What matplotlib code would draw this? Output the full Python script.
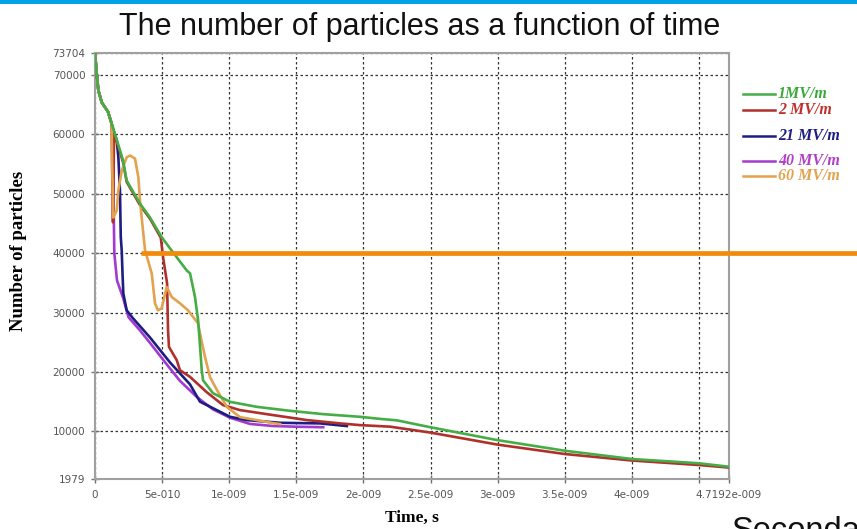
import matplotlib
matplotlib.use("Agg")
import matplotlib.pyplot as plt
from matplotlib.lines import Line2D
from matplotlib.patches import Rectangle

# --- data (time in ns, number of particles) ---
common_t = [0, 0.013, 0.025, 0.05, 0.097, 0.124]
common_n = [73704, 70200, 67400, 65400, 63800, 61800]

green_t = common_t + [0.164, 0.209, 0.236, 0.335, 0.41, 0.497, 0.559, 0.683, 0.708, 0.745,
                      0.768, 0.783, 0.795, 0.805, 0.879, 1.006, 1.205, 1.453, 1.699, 1.975,
                      2.124, 2.25, 2.497, 2.996, 3.502, 4.001, 4.501, 4.7192]
green_n = common_n + [58950, 55600, 52230, 48360, 46000, 42700, 40800, 37100, 36600, 32600,
                      28700, 24200, 20300, 18600, 16430, 14970, 14130, 13460, 12900, 12450,
                      12100, 11850, 10700, 8530, 6730, 5340, 4620, 4050]

red_t = common_t + [0.128, 0.134, 0.142, 0.164, 0.209, 0.236, 0.335, 0.41, 0.49, 0.507,
                    0.537, 0.544, 0.551, 0.609, 0.633, 0.708, 0.832, 0.954, 1.08, 1.326,
                    1.578, 1.826, 1.975, 2.198, 2.497, 2.996, 3.502, 4.001, 4.501, 4.7192]
red_n = common_n + [54000, 45200, 60000, 58700, 55300, 52000, 48100, 45800, 42600, 39340,
                    34920, 27020, 24215, 21980, 20300, 19170, 16600, 14420, 13580, 12740,
                    11900, 11340, 11050, 10790, 9800, 7780, 6180, 5090, 4330, 3910]

blue_t = common_t + [0.162, 0.174, 0.186, 0.192, 0.199, 0.205, 0.211, 0.236, 0.283, 0.41,
                     0.559, 0.708, 0.782, 0.907, 1.006, 1.13, 1.379, 1.677, 1.876]
blue_n = common_n + [58950, 56150, 50550, 42700, 40470, 36550, 33240, 30380, 29040, 25800,
                     21600, 17900, 15000, 13580, 12450, 11900, 11440, 11340, 10890]

purple_t = common_t + [0.132, 0.136, 0.140, 0.144, 0.153, 0.164, 0.209, 0.25, 0.335, 0.42,
                       0.544, 0.633, 0.758, 0.879, 1.006, 1.155, 1.326, 1.503, 1.70]
purple_n = common_n + [59500, 54000, 46000, 40000, 37900, 35400, 32500, 29200, 27000, 24600,
                       21000, 18500, 15800, 13700, 12300, 11250, 10900, 10780, 10700]

orange_t = common_t + [0.128, 0.136, 0.162, 0.174, 0.199, 0.236, 0.261, 0.298, 0.323, 0.335,
                       0.36, 0.373, 0.4225, 0.447, 0.469, 0.497, 0.534, 0.572, 0.633, 0.693,
                       0.7675, 0.782, 0.82, 0.857, 0.909, 0.984, 1.08, 1.205, 1.326, 1.379]
orange_n = common_n + [55000, 46000, 47190, 50550, 53910, 56150, 56435, 55930, 52790, 48870,
                       43270, 40470, 36600, 31560, 30380, 30720, 34300, 32620, 31560, 30380,
                       28200, 26520, 22480, 19120, 16940, 14080, 12400, 11900, 11390, 11220]

labels = ["1MV/m", "2 MV/m", "21 MV/m", "40 MV/m", "60 MV/m"]
line_colors = ["#45AD45", "#B0302C", "#1E1E82", "#A23ACF", "#E3A24E"]
text_colors = ["#3AA83A", "#C0302C", "#1E1E82", "#B040C8", "#E3A24E"]

x_ticks = [0, 0.5, 1.0, 1.5, 2.0, 2.5, 3.0, 3.5, 4.0, 4.5, 4.7192]
x_tick_labels = ["0", "5e-010", "1e-009", "1.5e-009", "2e-009", "2.5e-009", "3e-009",
                 "3.5e-009", "4e-009", "", "4.7192e-009"]
y_ticks = [1979, 10000, 20000, 30000, 40000, 50000, 60000, 70000, 73704]

highlight_level = 40000
highlight_start = 0.343

W, H = 857, 529
fig = plt.figure(figsize=(W / 100, H / 100), dpi=100)
fig.patch.set_facecolor("white")

# blue band on top of the slide
fig.add_artist(Rectangle((0, 1 - 4 / H), 1, 4 / H, transform=fig.transFigure,
                         color="#00A2E8", lw=0))

ax = fig.add_axes([95 / W, 1 - 479 / H, 633.5 / W, 426 / H])

series = [(green_t, green_n), (red_t, red_n), (blue_t, blue_n),
          (purple_t, purple_n), (orange_t, orange_n)]
zorders = [6, 4, 3.5, 3, 5]
for (t, n), c, z in zip(series, line_colors, zorders):
    ax.plot(t, n, color=c, lw=1.9, zorder=z, solid_joinstyle="round")

ax.set_xlim(0, 4.7192)
ax.set_ylim(1979, 73704)
ax.set_xticks(x_ticks)
ax.set_xticklabels(x_tick_labels)
ax.set_yticks(y_ticks)
ax.set_yticklabels([str(v) for v in y_ticks])
ax.tick_params(direction="inout", length=6, width=1, color="#707070",
               labelsize=7.5, labelcolor="#555555")
ax.tick_params(axis="x", pad=5)
ax.tick_params(axis="y", pad=4)
ax.grid(True, color="#333333", lw=0.9, linestyle=(0, (2, 2)))
for s in ax.spines.values():
    s.set_color("#A0A0A0")
    s.set_linewidth(1.5)

ax.set_xlabel("Time, s", family="Liberation Serif", weight="bold", fontsize=12.5)
ax.set_ylabel("Number of particles", family="Liberation Serif", weight="bold",
              fontsize=13.5)
ax.xaxis.set_label_coords(0.5, -0.072)
ax.yaxis.set_label_coords(-0.107, 0.535)

# orange highlight line over the chart, running off to the slide edge
ax.plot([highlight_start, 5.8], [highlight_level, highlight_level], color="#F28A0C",
        lw=3.4, clip_on=False, zorder=10, solid_capstyle="butt")

# legend outside the plot
legend_y = [94, 110, 136, 161, 176]
for lab, lc, tc, yy in zip(labels, line_colors, text_colors, legend_y):
    fy = 1 - yy / H
    fig.add_artist(Line2D([743 / W, 775 / W], [fy, fy], color=lc, lw=1.8,
                          transform=fig.transFigure))
    fig.text(778 / W, fy, lab, color=tc, family="Liberation Serif", weight="bold",
             style="italic", fontsize=11.5, va="center", ha="left")

fig.text(420 / W, 1 - 27 / H, "The number of particles as a function of time",
         family="Liberation Sans", fontsize=22, ha="center", va="center", color="#111111")
fig.text(732 / W, 1 - 540 / H, "Seconda", family="Liberation Sans", fontsize=23.5,
         ha="left", va="baseline", color="#111111")

fig.savefig("out.png", dpi=100)
